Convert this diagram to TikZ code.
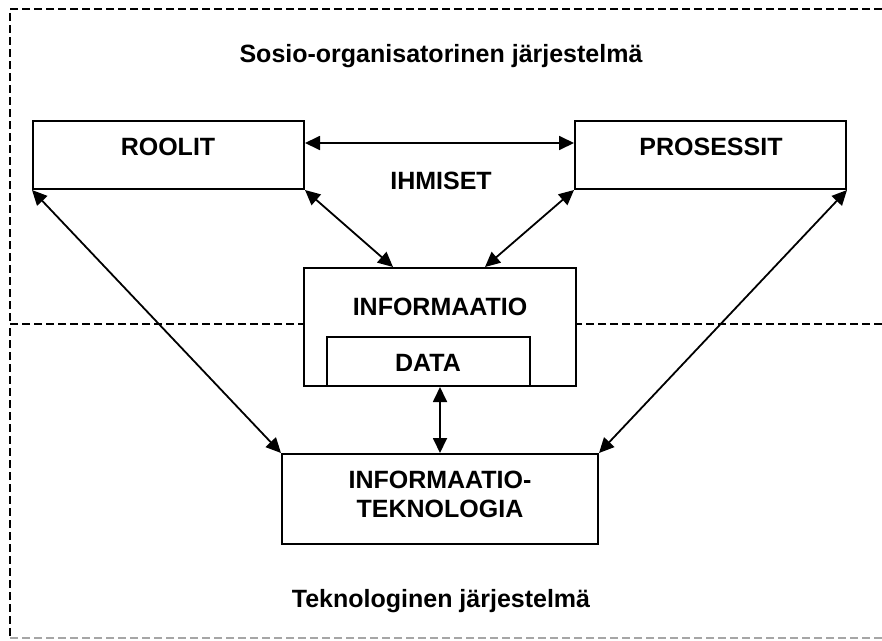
\documentclass[tikz,border=0pt]{standalone}
\usepackage{fontspec}
\setmainfont{Liberation Sans}
\usetikzlibrary{arrows.meta}
\begin{document}
\begin{tikzpicture}[x=1pt,y=-1pt,
  box/.style={draw,line width=2pt,fill=white,inner sep=0pt},
  lbl/.style={font=\fontsize{25}{29}\selectfont\bfseries,inner sep=0pt,align=center,anchor=base},
  link/.style={line width=1.8pt,{Triangle[length=15pt,width=14pt]}-{Triangle[length=15pt,width=14pt]}},
  border/.style={line width=1.3pt,dash pattern=on 8pt off 4pt}]
\useasboundingbox (0,0) rectangle (882,640);

% system boundaries
\draw[border] (882,9) -- (10,9) -- (10,324);
\draw[border] (882,324) -- (10,324) -- (10,638);
\draw[border,black!35] (10,638) -- (882,638);

% boxes
\node[box,minimum width=271pt,minimum height=68pt] (roolit) at (168.5,155) {};
\node[box,minimum width=271pt,minimum height=68pt] (prosessit) at (710.5,155) {};
\node[box,minimum width=272pt,minimum height=118pt] (info) at (440,327) {};
\node[box,line width=1.5pt,minimum width=203pt,minimum height=49pt] (data) at (428.5,361.5) {};
\node[box,minimum width=316pt,minimum height=90pt] (it) at (440,499) {};

% labels
\node[lbl] (tsosio) at (441,62) {Sosio-organisatorinen järjestelmä};
\node[lbl] (troolit) at (168,155) {ROOLIT};
\node[lbl] (tprosessit) at (711,155) {PROSESSIT};
\node[lbl] (tihmiset) at (441,189) {IHMISET};
\node[lbl] (tinfo) at (440,315) {INFORMAATIO};
\node[lbl] (tdata) at (428,371) {DATA};
\node[lbl] (tit) at (440,517) {INFORMAATIO-\\TEKNOLOGIA};
\node[lbl] (ttekno) at (441,607) {Teknologinen järjestelmä};

% connectors
\draw[link] ([yshift=-23pt]roolit.north east) -- ([yshift=-23pt]prosessit.north west);
\draw[link] (roolit.south east) -- ([xshift=-47pt]info.north);
\draw[link] (prosessit.south west) -- ([xshift=45pt]info.north);
\draw[link] (roolit.south west) -- (it.north west);
\draw[link] (prosessit.south east) -- (it.north east);
\draw[link] (info.south) -- (it.north);
\end{tikzpicture}
\end{document}
